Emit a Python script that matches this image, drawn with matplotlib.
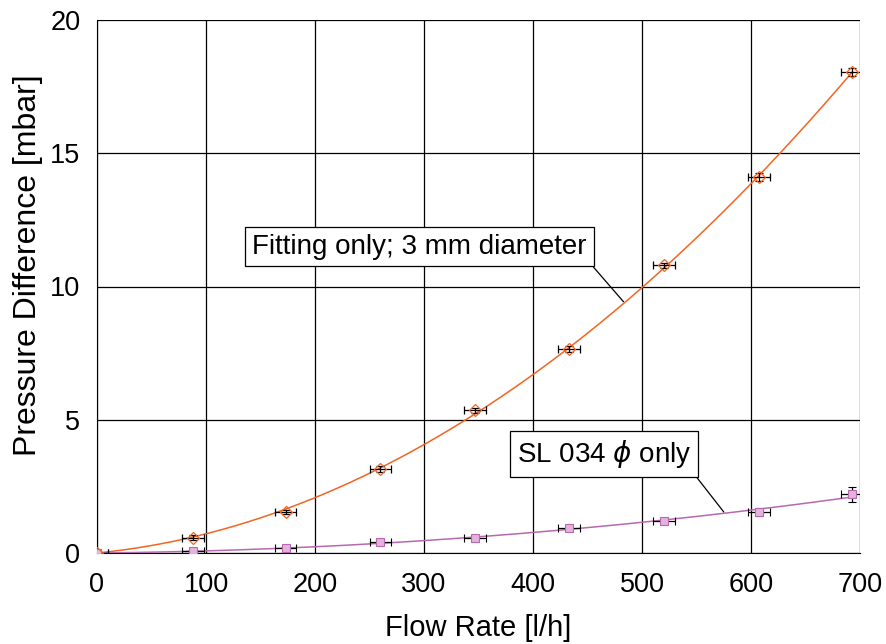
import numpy as np
import matplotlib.pyplot as plt

plt.rcParams['font.family'] = ['Liberation Sans', 'DejaVu Sans']
plt.rcParams['mathtext.fontset'] = 'dejavusans'

# measured flow rate [l/h]
flow = [0, 88, 173, 260, 347, 433, 520, 607, 693]
# pressure difference [mbar], fitting only (3 mm)
dp_fitting = [0.0, 0.58, 1.54, 3.15, 5.35, 7.65, 10.79, 14.1, 18.04]
dp_fitting_err = [0.05, 0.08, 0.08, 0.1, 0.1, 0.1, 0.1, 0.15, 0.15]
# pressure difference [mbar], SL 034 phi only
dp_sl = [0.0, 0.08, 0.2, 0.4, 0.58, 0.95, 1.19, 1.52, 2.2]
dp_sl_err = [0.05, 0.08, 0.08, 0.08, 0.1, 0.1, 0.1, 0.15, 0.27]
flow_err = 10

ORANGE = '#F26522'
PURPLE = '#B868B0'


def quad_fit(x, y):
    """Least squares y = a*x^2 + b*x (through origin)."""
    x = np.asarray(x, float)
    A = np.column_stack([x ** 2, x])
    coef, *_ = np.linalg.lstsq(A, np.asarray(y, float), rcond=None)
    return coef


fig = plt.figure(figsize=(8.86, 6.44), dpi=100)
ax = fig.add_axes([97 / 886, (644 - 553) / 644, (860 - 97) / 886, (553 - 20) / 644])

xs = np.linspace(0, 693, 300)
a, b = quad_fit(flow, dp_fitting)
ax.plot(xs, a * xs ** 2 + b * xs, color=ORANGE, lw=1.1, zorder=3)
a2, b2 = quad_fit(flow, dp_sl)
ax.plot(xs, a2 * xs ** 2 + b2 * xs, color=PURPLE, lw=1.1, zorder=3)

ax.errorbar(flow, dp_sl, xerr=flow_err, yerr=dp_sl_err, fmt='s', ms=6,
            mfc='#E2B4DC', mec=PURPLE, mew=0.8, ecolor='black', elinewidth=0.9,
            capsize=3, capthick=0.9, zorder=4)
ax.errorbar(flow, dp_fitting, xerr=flow_err, yerr=dp_fitting_err, fmt='D', ms=6,
            mfc='none', mec=ORANGE, mew=0.9, ecolor='black', elinewidth=0.9,
            capsize=3, capthick=0.9, zorder=4)

ax.set_xlim(0, 700)
ax.set_ylim(0, 20)
ax.set_xticks(range(0, 701, 100))
ax.set_yticks(range(0, 21, 5))
ax.grid(True, color='black', lw=0.9)
ax.set_axisbelow(True)
ax.tick_params(axis='x', length=0, labelsize=19.5, pad=14)
ax.tick_params(axis='y', length=0, labelsize=19.5, pad=12)
for side in ['top', 'right']:
    ax.spines[side].set_visible(False)
ax.spines['left'].set_color('black')
ax.spines['bottom'].set_color('black')

ax.set_xlabel('Flow Rate [l/h]', fontsize=21, labelpad=11)
ax.set_ylabel('Pressure Difference [mbar]', fontsize=23)
ax.yaxis.set_label_coords(-0.071, 0.54)

box = dict(boxstyle='square,pad=0.25', fc='white', ec='black', lw=0.9)
ax.annotate('Fitting only; 3 mm diameter', xy=(483, 9.43), xytext=(296, 11.5),
            fontsize=20, ha='center', va='center', bbox=box,
            arrowprops=dict(arrowstyle='-', color='black', lw=0.9,
                            relpos=(1.0, 0.0), shrinkA=0, shrinkB=0))
ax.annotate(r'SL 034 $\phi$ only', xy=(575, 1.54), xytext=(465, 3.71),
            fontsize=20, ha='center', va='center', bbox=box,
            arrowprops=dict(arrowstyle='-', color='black', lw=0.9,
                            relpos=(1.0, 0.0), shrinkA=0, shrinkB=0))

fig.savefig('out.png', dpi=100)
